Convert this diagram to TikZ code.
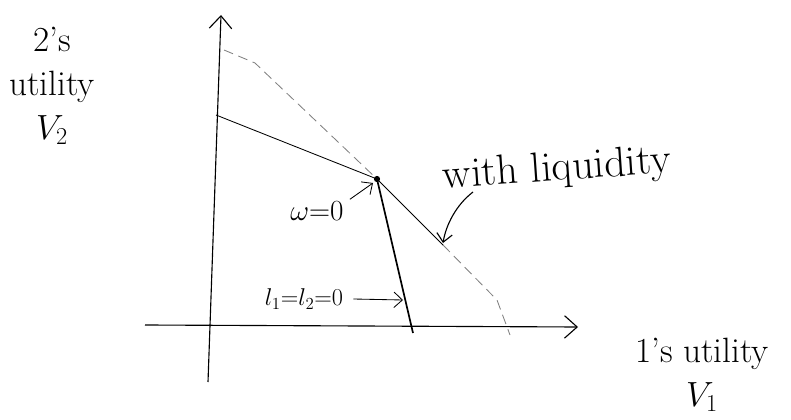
\documentclass[tikz,border=0pt]{standalone}
\usetikzlibrary{arrows.meta}
\tikzset{
  axis/.style={thick,-{Straight Barb[length=9pt,width=16pt]}},
  pointer/.style={semithick,-{Straight Barb[length=6pt,width=11pt]}},
  lbl/.style={font=\fontsize{25}{31}\selectfont,align=center,inner sep=0pt},
  small lbl/.style={font=\LARGE,inner sep=0pt},
  liq/.style={gray,semithick,dash pattern=on 7pt off 4pt},
}
\begin{document}
\begin{tikzpicture}[x=0.025cm,y=-0.025cm]
  \useasboundingbox (0,0) rectangle (791,420);
  % axes
  \coordinate (ybot) at (208,382);
  \coordinate (ytop) at (221,15);
  \coordinate (xleft) at (145,325);
  \coordinate (xright) at (578,327);
  \draw[axis] (ybot) -- (ytop);
  \draw[axis] (xleft) -- (xright);
  % frontier with liquidity
  \coordinate (dtop) at (224,50);
  \coordinate (kink) at (377,179);
  \coordinate (b) at (443,245);
  \coordinate (dend) at (510,335);
  \draw[liq] (dtop) -- (255,63) -- (kink);
  \draw[liq] (b) -- (497,300) -- (dend);
  % frontier without
  \coordinate (a) at (216,115);
  \coordinate (c) at (413,333);
  \draw[semithick] (a) -- (kink) -- (b);
  \draw[very thick] (kink) -- (c);
  \fill (kink) circle (2.2pt);
  % labels
  \node[lbl] (v2) at (52,86) {2's\\utility\\$V_2$};
  \node[lbl] (v1) at (702,375) {1's utility\\$V_1$};
  \node[lbl,font=\fontsize{30}{34}\selectfont,rotate=4] (with) at (557,170) {with liquidity};
  \node[small lbl,font=\huge] (w) at (317,211) {$\omega{=}0$};
  \node[small lbl] (l) at (304,299) {$l_1{=}l_2{=}0$};
  \draw[pointer] (w.north east) ++(6,-2) -- ([shift={(-4,4)}]kink);
  \draw[pointer] (l.east) ++(10,0) -- (403,300);
  \draw[pointer,thick] (473,192) .. controls (456,205) and (446,225) .. (443,243);
\end{tikzpicture}
\end{document}
